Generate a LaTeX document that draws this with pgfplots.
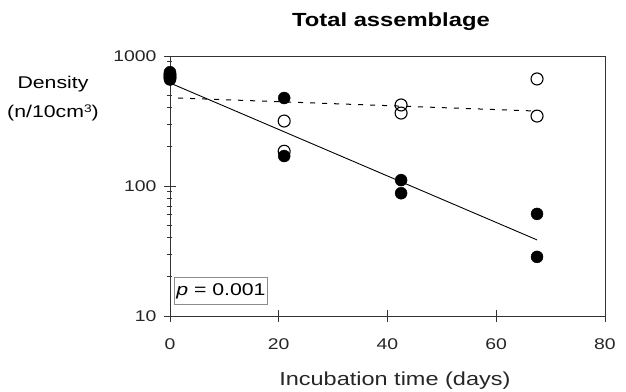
\documentclass[border=0pt]{standalone}
\usepackage{fontspec}
\setmainfont{Liberation Sans}[FakeStretch=1.25]
\usepackage{pgfplots}
\pgfplotsset{compat=1.18}
\begin{document}
\begin{tikzpicture}
\begin{axis}[
  name=ax,
  scale only axis, width=435pt, height=260pt,
  ymode=log, xmin=0, xmax=80, ymin=10, ymax=1000,
  xtick={0,20,40,60,80}, ytick={10,100,1000},
  yticklabels={10,100,1000},
  xtick pos=left, ytick pos=left,
  tick align=center, major tick length=12pt, minor tick length=5pt,
  axis line style={line width=0.9pt, black!80},
  every tick/.style={line width=0.9pt, black!80},
  /pgf/number format/assume math mode=true,
  tick label style={font=\fontsize{15.5}{18}\selectfont, text=black!85},
  yticklabel style={anchor=east, xshift=-4pt},
  xticklabel style={yshift=-13pt},
  clip=false,
]
\addplot[only marks, mark=o, mark size=6pt, mark options={line width=1.1pt, fill=white}, black]
  coordinates {(0,720)(0,680)(21,316)(21,185)(42.5,420)(42.5,364)(67.5,666)(67.5,345)};
\addplot[only marks, mark=*, mark size=6pt, black]
  coordinates {(0,750)(0,700)(0,660)(21,475)(21,170)(42.5,111)(42.5,88)(67.5,61)(67.5,28.5)};
\addplot[black, line width=0.9pt] coordinates {(0,620)(67.5,38.5)};
\addplot[black, line width=1pt, dash pattern=on 5pt off 7pt] coordinates {(1.5,475)(67.5,377)};
\node[draw=black!45, line width=1pt, fill=white, font=\fontsize{17}{20}\selectfont,
  minimum width=82pt, minimum height=27pt, inner sep=2pt]
  at (rel axis cs:0.117,0.096) {\textit{p} = 0.001};
\node[align=center, font=\fontsize{17}{29}\selectfont]
  at (rel axis cs:-0.269,0.838) {Density\\(n/10cm{\fontsize{11}{12}\selectfont\raisebox{5pt}{3}})};
\node[anchor=base, font=\bfseries\fontsize{19}{22}\selectfont]
  at (rel axis cs:0.508,1.115) {Total assemblage};
\node[anchor=base, font=\fontsize{18.8}{22}\selectfont, text=black!85]
  at (rel axis cs:0.517,-0.269) {Incubation time (days)};
\end{axis}
\pgfresetboundingbox
\path[use as bounding box] ([shift={(-170pt,-75pt)}]ax.south west) rectangle ([shift={(21pt,56pt)}]ax.north east);
\end{tikzpicture}
\end{document}
